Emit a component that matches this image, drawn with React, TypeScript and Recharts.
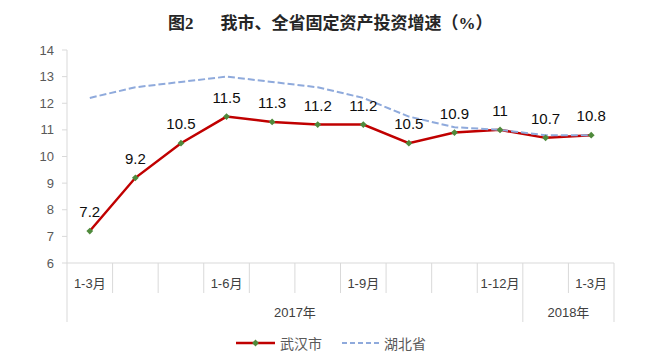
import { LineChart, Line, XAxis, YAxis, Legend, LabelList } from 'recharts';

const categories = ['1-3月', '1-4月', '1-5月', '1-6月', '1-7月', '1-8月', '1-9月', '1-10月', '1-11月', '1-12月', '1-2月', '1-3月'];
const tickLabels = ['1-3月', '', '', '1-6月', '', '', '1-9月', '', '', '1-12月', '', '1-3月'];
const years = ['2017年', '2018年'];
const yearSpans = [10, 2];
const wuhan = [7.2, 9.2, 10.5, 11.5, 11.3, 11.2, 11.2, 10.5, 10.9, 11, 10.7, 10.8];
const hubei = [12.2, 12.6, 12.8, 13.0, 12.8, 12.6, 12.2, 11.5, 11.1, 11.0, 10.8, 10.8];
const yTicks = [6, 7, 8, 9, 10, 11, 12, 13, 14];

const W = 648;
const H = 355;
const Y_W = 67;
const margin = { top: 50, right: 34, bottom: 0, left: 0 };
const bandW = (W - Y_W - margin.right) / categories.length;
const GRID = '#D9D9D9';
const LATIN = '"Liberation Sans", "Noto Sans CJK SC", sans-serif';

const data = categories.map((c, i) => ({ month: c, wuhan: wuhan[i], hubei: hubei[i] }));

// first category index of each year group
const groupStarts = yearSpans.map((_, g) => yearSpans.slice(0, g).reduce((a, b) => a + b, 0));

function MonthTick(props: any) {
  const { x, y, index } = props;
  const g = groupStarts.indexOf(index);
  const left = x - bandW / 2;
  return (
    <g>
      <text x={x} y={y + 20} textAnchor="middle" dominantBaseline="central" fontSize={13} fill="#404040" fontFamily={LATIN}>
        {tickLabels[index]}
      </text>
      <line x1={left} x2={left} y1={y} y2={y + (g >= 0 ? 59 : 30)} stroke={GRID} />
      {g >= 0 && (
        <text x={x + (yearSpans[g] / 2 - 0.5) * bandW} y={y + 49} textAnchor="middle" dominantBaseline="central" fontSize={13} fill="#404040" fontFamily={LATIN}>
          {years[g]}
        </text>
      )}
      {index === categories.length - 1 && (
        <line x1={x + bandW / 2} x2={x + bandW / 2} y1={y} y2={y + 59} stroke={GRID} />
      )}
    </g>
  );
}

function Diamond(props: any) {
  const { cx, cy } = props;
  if (cx == null || cy == null) return null;
  const r = 3.4;
  return <polygon points={`${cx},${cy - r} ${cx + r},${cy} ${cx},${cy + r} ${cx - r},${cy}`} fill="#4F8A3C" />;
}

function renderLegend() {
  const txt = { fontSize: 14, color: '#595959', fontFamily: LATIN };
  return (
    <div style={{ height: 32, display: 'flex', justifyContent: 'center', alignItems: 'center', paddingTop: 8, paddingLeft: 48, boxSizing: 'border-box' }}>
      <svg width={39} height={10}>
        <line x1={0} x2={39} y1={5} y2={5} stroke="#C00000" strokeWidth={2.5} />
        <polygon points="19.5,1.6 22.9,5 19.5,8.4 16.1,5" fill="#4F8A3C" />
      </svg>
      <span style={{ ...txt, marginLeft: 5, marginRight: 20 }}>武汉市</span>
      <svg width={39} height={10}>
        <line x1={0} x2={39} y1={5} y2={5} stroke="#8FAADC" strokeWidth={2} strokeDasharray="5 3" />
      </svg>
      <span style={{ ...txt, marginLeft: 3 }}>湖北省</span>
    </div>
  );
}

export default function App() {
  return (
    <div style={{ position: 'absolute', left: 0, top: 0, width: W, height: H, background: '#fff' }}>
      <div
        style={{
          position: 'absolute',
          top: 14,
          left: 168,
          whiteSpace: 'nowrap',
          fontSize: 17,
          lineHeight: '20px',
          fontWeight: 700,
          color: '#262626',
          fontFamily: '"Liberation Serif", "Noto Sans CJK SC", serif',
        }}
      >
        <span>图2</span>
        <span style={{ marginLeft: 27 }}>我市、全省固定资产投资增速（%）</span>
      </div>
      <LineChart width={W} height={H} data={data} margin={margin}>
        <XAxis
          dataKey="month"
          interval={0}
          height={60}
          padding={{ left: bandW / 2, right: bandW / 2 }}
          tickLine={false}
          tickSize={0}
          tickMargin={0}
          axisLine={{ stroke: GRID }}
          tick={<MonthTick />}
        />
        <YAxis
          width={Y_W}
          domain={[6, 14]}
          ticks={yTicks}
          interval={0}
          tickSize={5}
          tickMargin={8}
          axisLine={{ stroke: GRID }}
          tickLine={{ stroke: GRID }}
          tick={{ fontSize: 13, fill: '#595959', fontFamily: LATIN }}
        />
        <Legend verticalAlign="bottom" content={renderLegend} />
        <Line
          dataKey="wuhan"
          name="武汉市"
          type="linear"
          stroke="#C00000"
          strokeWidth={2.5}
          dot={<Diamond />}
          activeDot={false}
          isAnimationActive={false}
        >
          <LabelList dataKey="wuhan" position="top" offset={14} fontSize={15} fill="#0D0D0D" fontFamily={LATIN} />
        </Line>
        <Line
          dataKey="hubei"
          name="湖北省"
          type="linear"
          stroke="#8FAADC"
          strokeWidth={2}
          strokeDasharray="7 3"
          dot={false}
          activeDot={false}
          isAnimationActive={false}
        />
      </LineChart>
    </div>
  );
}
